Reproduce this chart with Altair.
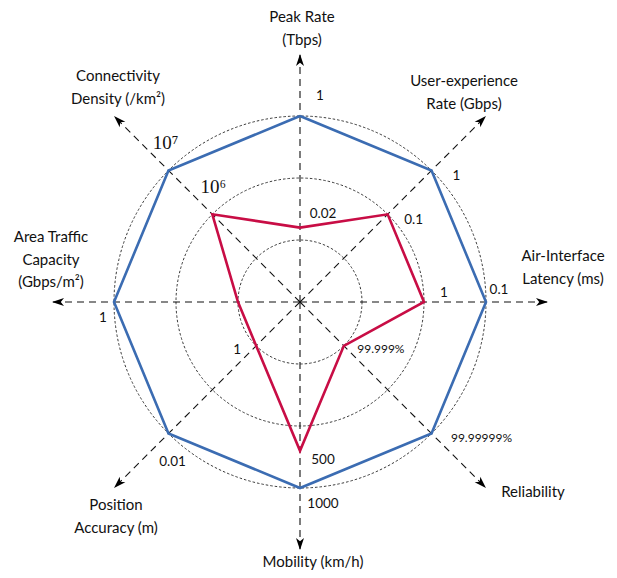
import math
import altair as alt
import pandas as pd

# ---------------- data ----------------
axis_titles = [
    "Peak Rate\n(Tbps)",
    "User-experience\nRate (Gbps)",
    "Air-Interface\nLatency (ms)",
    "Reliability",
    "Mobility (km/h)",
    "Position\nAccuracy (m)",
    "Area Traffic\nCapacity\n(Gbps/m²)",
    "Connectivity\nDensity (/km²)",
]
outer_values = [3, 3, 3, 3, 3, 3, 3, 3]          # blue polygon (level)
inner_values = [1.2, 2, 2, 1, 2.4, 1, 1, 2]      # red polygon (level)
outer_labels = ["1", "1", "0.1", "99.99999%", "1000", "0.01", "1", "10⁷"]
inner_labels = ["0.02", "0.1", "1", "99.999%", "500", "1", "", "10⁶"]
grid_levels = [1, 2, 3]

# ---------------- layout ----------------
W, H = 601, 562
CX, CY = 292, 294          # centre in plot pixels (from top-left)
UNIT = 62                  # pixels per level
ORTH_LEN, DIAG_LEN = 248, 263
bearings = [45 * i for i in range(8)]

# label offsets (px, y up) from the vertex they annotate
outer_off = [(20, 20), (25, -6), (13, 12), (50, -4), (23, -16), (4, -28), (-11, -16), (-3, 27)]
inner_off = [(23, 14), (26, -6), (20, 9), (37, -3), (23, -9), (-19, -4), (0, 0), (1, 27)]
# first-line centre of each axis title (px from centre, y up)
title_pos = [(2, 285), (164, 221), (263, 46), (233, -190), (13, -260), (-184, -203), (-249, 65), (-182, 226)]
small_font = {3}

def pol(r, b):
    rad = math.radians(b)
    return r * math.sin(rad), r * math.cos(rad)

xs = alt.Scale(domain=[-CX, W - CX], nice=False, zero=False)
ys = alt.Scale(domain=[-(H - CY), CY], nice=False, zero=False)
X = lambda f="x": alt.X(f"{f}:Q", scale=xs, axis=None)
Y = lambda f="y": alt.Y(f"{f}:Q", scale=ys, axis=None)

# grid circles
circ_df = pd.DataFrame({"x": [0] * 3, "y": [0] * 3,
                        "size": [(2 * l * UNIT) ** 2 for l in grid_levels]})
circles = alt.Chart(circ_df).mark_point(
    shape="circle", filled=False, color="#222", strokeWidth=0.9, strokeDash=[2.5, 2], opacity=1
).encode(x=X(), y=Y(), size=alt.Size("size:Q", scale=None))

# axes (dashed) + arrowheads
ax_rows = []
for i, b in enumerate(bearings):
    L = ORTH_LEN if i % 2 == 0 else DIAG_LEN
    tx, ty = pol(L, b)
    ax_rows.append({"x": 0, "y": 0, "x2": tx, "y2": ty, "b": b})
ax_df = pd.DataFrame(ax_rows)
axes_rules = alt.Chart(ax_df).mark_rule(color="#111", strokeWidth=1.1, strokeDash=[7, 5]).encode(
    x=X(), y=Y(), x2="x2:Q", y2="y2:Q")
arrows = alt.Chart(ax_df).mark_point(
    shape="M0,0 L-0.5,1.5 L0,1.1 L0.5,1.5 Z", filled=True, color="#000", opacity=1, size=256
).encode(x=X("x2"), y=Y("y2"), angle=alt.Angle("b:Q", scale=None))

# polygons
def poly_df(vals, name):
    rows = []
    for k in range(9):
        i = k % 8
        x, y = pol(vals[i] * UNIT, bearings[i])
        rows.append({"x": x, "y": y, "o": k, "s": name})
    return pd.DataFrame(rows)

blue = alt.Chart(poly_df(outer_values, "outer")).mark_line(color="#3B6CB2", strokeWidth=2.6).encode(
    x=X(), y=Y(), order="o:Q")
red = alt.Chart(poly_df(inner_values, "inner")).mark_line(color="#C80D45", strokeWidth=2.6).encode(
    x=X(), y=Y(), order="o:Q")

# tick labels
lab_rows = []
for i, b in enumerate(bearings):
    for vals, labs, offs in ((outer_values, outer_labels, outer_off), (inner_values, inner_labels, inner_off)):
        if not labs[i]:
            continue
        vx, vy = pol(vals[i] * UNIT, b)
        lab_rows.append({"x": vx + offs[i][0], "y": vy + offs[i][1], "t": labs[i],
                         "kind": "serif" if labs[i].startswith("10") and len(labs[i]) == 3 else
                         ("small" if i in small_font else "normal")})
lab_df = pd.DataFrame(lab_rows)
labs_normal = alt.Chart(lab_df[lab_df.kind == "normal"]).mark_text(
    font="Lato", fontSize=13.5, color="#111", align="center", baseline="middle").encode(x=X(), y=Y(), text="t:N")
labs_small = alt.Chart(lab_df[lab_df.kind == "small"]).mark_text(
    font="Lato", fontSize=12, color="#111", align="center", baseline="middle").encode(x=X(), y=Y(), text="t:N")
labs_serif = alt.Chart(lab_df[lab_df.kind == "serif"]).mark_text(
    font="Liberation Serif, DejaVu Serif", fontSize=19, color="#111", align="center", baseline="middle").encode(
    x=X(), y=Y(), text="t:N")

# axis titles
tt_df = pd.DataFrame({"x": [p[0] for p in title_pos], "y": [p[1] for p in title_pos], "t": axis_titles})
titles = alt.Chart(tt_df).mark_text(
    font="Lato", fontSize=15, color="#111", align="center", baseline="middle",
    lineBreak="\n", lineHeight=22.5).encode(x=X(), y=Y(), text="t:N")

chart = alt.layer(circles, axes_rules, arrows, blue, red, labs_normal, labs_small, labs_serif, titles).properties(
    width=W, height=H, padding=0, autosize=alt.AutoSizeParams(type="none")
).configure_view(stroke=None)

chart.save("out.html", embed_options={"renderer": "svg", "actions": False})
